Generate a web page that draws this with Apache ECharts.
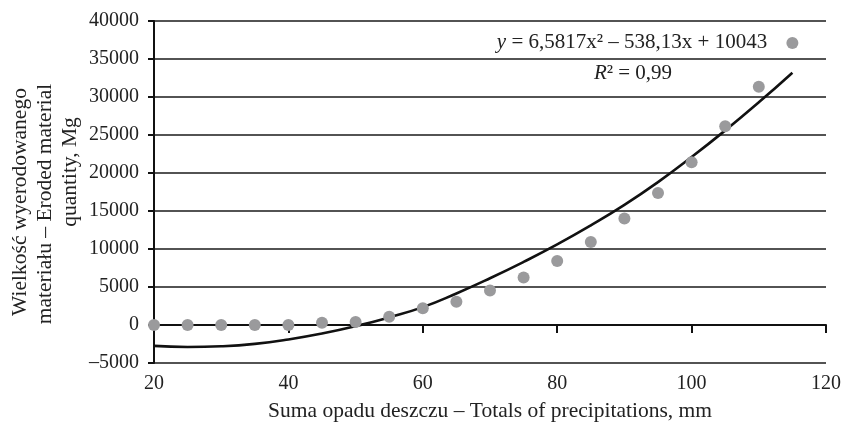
<!DOCTYPE html>
<html>
<head>
<meta charset="utf-8">
<script src="https://cdn.jsdelivr.net/npm/echarts@6/dist/echarts.min.js"></script>
<style>html,body{margin:0;padding:0;background:#fff}#c{width:846px;height:426px}</style>
</head>
<body>
<div id="c"></div>
<script>
const precipitation = [20,25,30,35,40,45,50,55,60,65,70,75,80,85,90,95,100,105,110,115];
const erodedMaterial = [0,0,0,0,0,300,400,1100,2200,3050,4550,6250,8430,10920,14000,17360,21400,26150,31350,37100];
const trendX = [20,25,30,35,40,45,50,55,60,65,70,75,80,85,90,95,100,105,110,115];
const trendY = [-2750,-2900,-2800,-2480,-1900,-1120,-150,1000,2350,4150,6150,8300,10600,13100,15800,18800,22100,25600,29300,33200];
const xTicks = {min:20, max:120, interval:20};
const yTicks = {min:-5000, max:40000, interval:5000};
const xTitle = 'Suma opadu deszczu – Totals of precipitations, mm';
const yTitle = ['Wielkość wyerodowanego', 'materiału – Eroded material', 'quantity, Mg'];
const equation = '6,5817x² – 538,13x + 10043';
const r2 = '0,99';

const FONT = '"Liberation Serif","DejaVu Serif",serif';
const TITLE_PX = 21.5;
const chart = echarts.init(document.getElementById('c'), null, {renderer:'canvas'});
const yTitlePos = [[20,202],[45,204],[70,172]];
chart.setOption({
  animation:false,
  backgroundColor:'#fff',
  grid:{left:154, right:20, top:21, bottom:63, containLabel:false, outerBoundsMode:'none'},
  xAxis:[
    {type:'value', position:'bottom', min:xTicks.min, max:xTicks.max, interval:xTicks.interval,
     axisLine:{show:false, onZero:false}, axisTick:{show:false}, splitLine:{show:false},
     axisLabel:{fontFamily:FONT, fontSize:20, color:'#222', margin:11},
     name:xTitle, nameLocation:'middle', nameGap:37,
     nameTextStyle:{fontFamily:FONT, fontSize:TITLE_PX, color:'#222'}},
    {type:'value', position:'bottom', min:xTicks.min, max:xTicks.max, interval:xTicks.interval,
     axisLine:{show:true, onZero:true, lineStyle:{color:'#111', width:2}},
     axisTick:{show:true, length:8, lineStyle:{color:'#111', width:2}},
     axisLabel:{show:false}, splitLine:{show:false}}
  ],
  yAxis:{type:'value', min:yTicks.min, max:yTicks.max, interval:yTicks.interval,
    axisLine:{show:true, lineStyle:{color:'#111', width:2}},
    axisTick:{show:true, length:6, lineStyle:{color:'#111', width:2}},
    axisLabel:{fontFamily:FONT, fontSize:20, color:'#222', margin:15,
      formatter:v => String(v).replace('-', '–')},
    splitLine:{show:true, lineStyle:{color:'#1a1a1a', width:1.6}}
  },
  graphic:yTitle.map((t,i)=>({type:'text', x:yTitlePos[i][0], y:yTitlePos[i][1], rotation:Math.PI/2,
     style:{text:t, font:TITLE_PX + 'px ' + FONT, fill:'#222', align:'center', verticalAlign:'middle'}})).concat([
    {type:'text', x:632, y:42,
     style:{text:'{i|y} = ' + equation, align:'center', verticalAlign:'middle',
       font:'21px ' + FONT, fill:'#222',
       rich:{i:{fontStyle:'italic', fontFamily:FONT, fontSize:21, fill:'#222'}}}},
    {type:'text', x:633, y:73,
     style:{text:'{i|R}² = ' + r2, align:'center', verticalAlign:'middle',
       font:'21px ' + FONT, fill:'#222',
       rich:{i:{fontStyle:'italic', fontFamily:FONT, fontSize:21, fill:'#222'}}}}
  ]),
  series:[
    {type:'line', xAxisIndex:0, data:trendX.map((x,i)=>[x, trendY[i]]), smooth:true, showSymbol:false,
     lineStyle:{color:'#111', width:2.6}, z:3},
    {type:'scatter', xAxisIndex:0, data:precipitation.map((x,i)=>[x, erodedMaterial[i]]),
     symbol:'circle', symbolSize:12, itemStyle:{color:'#9a9a9c', opacity:1}, z:4}
  ]
});
</script>
</body>
</html>
